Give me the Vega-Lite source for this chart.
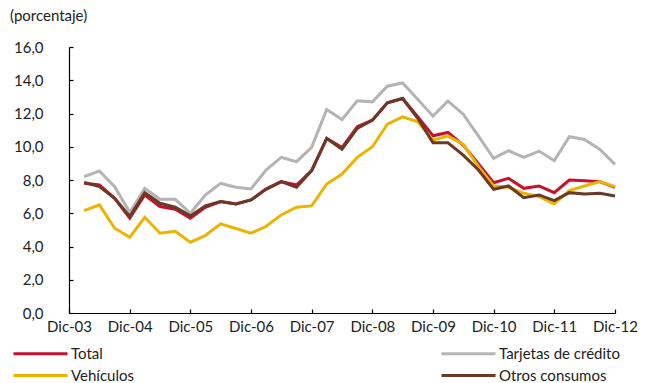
{
  "$schema": "https://vega.github.io/schema/vega-lite/v6.json",
  "autosize": {"type": "none"},
  "width": 546,
  "height": 266,
  "padding": {"left": 69, "top": 47, "right": 37, "bottom": 70},
  "background": "white",
  "config": {
    "view": {"stroke": null},
    "font": "Lato",
    "axis": {"labelFont": "Lato", "labelFontSize": 15, "labelColor": "#222222", "domainColor": "#000000", "tickColor": "#000000", "domainWidth": 1.2, "tickWidth": 1.2, "grid": false, "title": null}
  },
  "title": {"text": "(porcentaje)", "anchor": "start", "frame": "group", "dx": -59, "offset": 16, "fontSize": 15, "font": "Lato", "fontWeight": "normal", "color": "#222222"},
  "datasets": {
    "tasas": [
      {"fecha": "2004-03-01", "serie": "Tarjetas de crédito", "valor": 8.2},
      {"fecha": "2004-06-01", "serie": "Tarjetas de crédito", "valor": 8.54},
      {"fecha": "2004-09-01", "serie": "Tarjetas de crédito", "valor": 7.6},
      {"fecha": "2004-12-01", "serie": "Tarjetas de crédito", "valor": 6.04},
      {"fecha": "2005-03-01", "serie": "Tarjetas de crédito", "valor": 7.5},
      {"fecha": "2005-06-01", "serie": "Tarjetas de crédito", "valor": 6.84},
      {"fecha": "2005-09-01", "serie": "Tarjetas de crédito", "valor": 6.84},
      {"fecha": "2005-12-01", "serie": "Tarjetas de crédito", "valor": 6.0},
      {"fecha": "2006-03-01", "serie": "Tarjetas de crédito", "valor": 7.1},
      {"fecha": "2006-06-01", "serie": "Tarjetas de crédito", "valor": 7.8},
      {"fecha": "2006-09-01", "serie": "Tarjetas de crédito", "valor": 7.56},
      {"fecha": "2006-12-01", "serie": "Tarjetas de crédito", "valor": 7.46},
      {"fecha": "2007-03-01", "serie": "Tarjetas de crédito", "valor": 8.6},
      {"fecha": "2007-06-01", "serie": "Tarjetas de crédito", "valor": 9.36},
      {"fecha": "2007-09-01", "serie": "Tarjetas de crédito", "valor": 9.1},
      {"fecha": "2007-12-01", "serie": "Tarjetas de crédito", "valor": 9.96},
      {"fecha": "2008-03-01", "serie": "Tarjetas de crédito", "valor": 12.24},
      {"fecha": "2008-06-01", "serie": "Tarjetas de crédito", "valor": 11.64},
      {"fecha": "2008-09-01", "serie": "Tarjetas de crédito", "valor": 12.76},
      {"fecha": "2008-12-01", "serie": "Tarjetas de crédito", "valor": 12.7},
      {"fecha": "2009-03-01", "serie": "Tarjetas de crédito", "valor": 13.64},
      {"fecha": "2009-06-01", "serie": "Tarjetas de crédito", "valor": 13.84},
      {"fecha": "2009-09-01", "serie": "Tarjetas de crédito", "valor": 12.84},
      {"fecha": "2009-12-01", "serie": "Tarjetas de crédito", "valor": 11.84},
      {"fecha": "2010-03-01", "serie": "Tarjetas de crédito", "valor": 12.75},
      {"fecha": "2010-06-01", "serie": "Tarjetas de crédito", "valor": 11.96},
      {"fecha": "2010-09-01", "serie": "Tarjetas de crédito", "valor": 10.64},
      {"fecha": "2010-12-01", "serie": "Tarjetas de crédito", "valor": 9.3},
      {"fecha": "2011-03-01", "serie": "Tarjetas de crédito", "valor": 9.76},
      {"fecha": "2011-06-01", "serie": "Tarjetas de crédito", "valor": 9.36},
      {"fecha": "2011-09-01", "serie": "Tarjetas de crédito", "valor": 9.74},
      {"fecha": "2011-12-01", "serie": "Tarjetas de crédito", "valor": 9.16},
      {"fecha": "2012-03-01", "serie": "Tarjetas de crédito", "valor": 10.6},
      {"fecha": "2012-06-01", "serie": "Tarjetas de crédito", "valor": 10.44},
      {"fecha": "2012-09-01", "serie": "Tarjetas de crédito", "valor": 9.84},
      {"fecha": "2012-12-01", "serie": "Tarjetas de crédito", "valor": 8.94},

      {"fecha": "2004-03-01", "serie": "Total", "valor": 7.8},
      {"fecha": "2004-06-01", "serie": "Total", "valor": 7.7},
      {"fecha": "2004-09-01", "serie": "Total", "valor": 6.9},
      {"fecha": "2004-12-01", "serie": "Total", "valor": 5.7},
      {"fecha": "2005-03-01", "serie": "Total", "valor": 7.1},
      {"fecha": "2005-06-01", "serie": "Total", "valor": 6.4},
      {"fecha": "2005-09-01", "serie": "Total", "valor": 6.24},
      {"fecha": "2005-12-01", "serie": "Total", "valor": 5.7},
      {"fecha": "2006-03-01", "serie": "Total", "valor": 6.36},
      {"fecha": "2006-06-01", "serie": "Total", "valor": 6.7},
      {"fecha": "2006-09-01", "serie": "Total", "valor": 6.56},
      {"fecha": "2006-12-01", "serie": "Total", "valor": 6.8},
      {"fecha": "2007-03-01", "serie": "Total", "valor": 7.45},
      {"fecha": "2007-06-01", "serie": "Total", "valor": 7.9},
      {"fecha": "2007-09-01", "serie": "Total", "valor": 7.7},
      {"fecha": "2007-12-01", "serie": "Total", "valor": 8.56},
      {"fecha": "2008-03-01", "serie": "Total", "valor": 10.5},
      {"fecha": "2008-06-01", "serie": "Total", "valor": 9.95},
      {"fecha": "2008-09-01", "serie": "Total", "valor": 11.2},
      {"fecha": "2008-12-01", "serie": "Total", "valor": 11.6},
      {"fecha": "2009-03-01", "serie": "Total", "valor": 12.64},
      {"fecha": "2009-06-01", "serie": "Total", "valor": 12.9},
      {"fecha": "2009-09-01", "serie": "Total", "valor": 11.8},
      {"fecha": "2009-12-01", "serie": "Total", "valor": 10.66},
      {"fecha": "2010-03-01", "serie": "Total", "valor": 10.86},
      {"fecha": "2010-06-01", "serie": "Total", "valor": 10.1},
      {"fecha": "2010-09-01", "serie": "Total", "valor": 8.96},
      {"fecha": "2010-12-01", "serie": "Total", "valor": 7.84},
      {"fecha": "2011-03-01", "serie": "Total", "valor": 8.1},
      {"fecha": "2011-06-01", "serie": "Total", "valor": 7.5},
      {"fecha": "2011-09-01", "serie": "Total", "valor": 7.64},
      {"fecha": "2011-12-01", "serie": "Total", "valor": 7.24},
      {"fecha": "2012-03-01", "serie": "Total", "valor": 8.0},
      {"fecha": "2012-06-01", "serie": "Total", "valor": 7.96},
      {"fecha": "2012-09-01", "serie": "Total", "valor": 7.9},
      {"fecha": "2012-12-01", "serie": "Total", "valor": 7.56},

      {"fecha": "2004-03-01", "serie": "Vehículos", "valor": 6.16},
      {"fecha": "2004-06-01", "serie": "Vehículos", "valor": 6.5},
      {"fecha": "2004-09-01", "serie": "Vehículos", "valor": 5.1},
      {"fecha": "2004-12-01", "serie": "Vehículos", "valor": 4.56},
      {"fecha": "2005-03-01", "serie": "Vehículos", "valor": 5.76},
      {"fecha": "2005-06-01", "serie": "Vehículos", "valor": 4.8},
      {"fecha": "2005-09-01", "serie": "Vehículos", "valor": 4.92},
      {"fecha": "2005-12-01", "serie": "Vehículos", "valor": 4.26},
      {"fecha": "2006-03-01", "serie": "Vehículos", "valor": 4.66},
      {"fecha": "2006-06-01", "serie": "Vehículos", "valor": 5.36},
      {"fecha": "2006-09-01", "serie": "Vehículos", "valor": 5.08},
      {"fecha": "2006-12-01", "serie": "Vehículos", "valor": 4.8},
      {"fecha": "2007-03-01", "serie": "Vehículos", "valor": 5.2},
      {"fecha": "2007-06-01", "serie": "Vehículos", "valor": 5.9},
      {"fecha": "2007-09-01", "serie": "Vehículos", "valor": 6.36},
      {"fecha": "2007-12-01", "serie": "Vehículos", "valor": 6.44},
      {"fecha": "2008-03-01", "serie": "Vehículos", "valor": 7.76},
      {"fecha": "2008-06-01", "serie": "Vehículos", "valor": 8.36},
      {"fecha": "2008-09-01", "serie": "Vehículos", "valor": 9.36},
      {"fecha": "2008-12-01", "serie": "Vehículos", "valor": 10.0},
      {"fecha": "2009-03-01", "serie": "Vehículos", "valor": 11.36},
      {"fecha": "2009-06-01", "serie": "Vehículos", "valor": 11.8},
      {"fecha": "2009-09-01", "serie": "Vehículos", "valor": 11.5},
      {"fecha": "2009-12-01", "serie": "Vehículos", "valor": 10.4},
      {"fecha": "2010-03-01", "serie": "Vehículos", "valor": 10.64},
      {"fecha": "2010-06-01", "serie": "Vehículos", "valor": 10.16},
      {"fecha": "2010-09-01", "serie": "Vehículos", "valor": 8.8},
      {"fecha": "2010-12-01", "serie": "Vehículos", "valor": 7.64},
      {"fecha": "2011-03-01", "serie": "Vehículos", "valor": 7.56},
      {"fecha": "2011-06-01", "serie": "Vehículos", "valor": 7.2},
      {"fecha": "2011-09-01", "serie": "Vehículos", "valor": 7.0},
      {"fecha": "2011-12-01", "serie": "Vehículos", "valor": 6.56},
      {"fecha": "2012-03-01", "serie": "Vehículos", "valor": 7.36},
      {"fecha": "2012-06-01", "serie": "Vehículos", "valor": 7.64},
      {"fecha": "2012-09-01", "serie": "Vehículos", "valor": 7.9},
      {"fecha": "2012-12-01", "serie": "Vehículos", "valor": 7.6},

      {"fecha": "2004-03-01", "serie": "Otros consumos", "valor": 7.86},
      {"fecha": "2004-06-01", "serie": "Otros consumos", "valor": 7.6},
      {"fecha": "2004-09-01", "serie": "Otros consumos", "valor": 6.9},
      {"fecha": "2004-12-01", "serie": "Otros consumos", "valor": 5.8},
      {"fecha": "2005-03-01", "serie": "Otros consumos", "valor": 7.24},
      {"fecha": "2005-06-01", "serie": "Otros consumos", "valor": 6.6},
      {"fecha": "2005-09-01", "serie": "Otros consumos", "valor": 6.36},
      {"fecha": "2005-12-01", "serie": "Otros consumos", "valor": 5.84},
      {"fecha": "2006-03-01", "serie": "Otros consumos", "valor": 6.44},
      {"fecha": "2006-06-01", "serie": "Otros consumos", "valor": 6.7},
      {"fecha": "2006-09-01", "serie": "Otros consumos", "valor": 6.56},
      {"fecha": "2006-12-01", "serie": "Otros consumos", "valor": 6.8},
      {"fecha": "2007-03-01", "serie": "Otros consumos", "valor": 7.44},
      {"fecha": "2007-06-01", "serie": "Otros consumos", "valor": 7.9},
      {"fecha": "2007-09-01", "serie": "Otros consumos", "valor": 7.56},
      {"fecha": "2007-12-01", "serie": "Otros consumos", "valor": 8.56},
      {"fecha": "2008-03-01", "serie": "Otros consumos", "valor": 10.5},
      {"fecha": "2008-06-01", "serie": "Otros consumos", "valor": 9.85},
      {"fecha": "2008-09-01", "serie": "Otros consumos", "valor": 11.1},
      {"fecha": "2008-12-01", "serie": "Otros consumos", "valor": 11.6},
      {"fecha": "2009-03-01", "serie": "Otros consumos", "valor": 12.64},
      {"fecha": "2009-06-01", "serie": "Otros consumos", "valor": 12.9},
      {"fecha": "2009-09-01", "serie": "Otros consumos", "valor": 11.7},
      {"fecha": "2009-12-01", "serie": "Otros consumos", "valor": 10.24},
      {"fecha": "2010-03-01", "serie": "Otros consumos", "valor": 10.24},
      {"fecha": "2010-06-01", "serie": "Otros consumos", "valor": 9.5},
      {"fecha": "2010-09-01", "serie": "Otros consumos", "valor": 8.6},
      {"fecha": "2010-12-01", "serie": "Otros consumos", "valor": 7.44},
      {"fecha": "2011-03-01", "serie": "Otros consumos", "valor": 7.64},
      {"fecha": "2011-06-01", "serie": "Otros consumos", "valor": 6.94},
      {"fecha": "2011-09-01", "serie": "Otros consumos", "valor": 7.1},
      {"fecha": "2011-12-01", "serie": "Otros consumos", "valor": 6.76},
      {"fecha": "2012-03-01", "serie": "Otros consumos", "valor": 7.24},
      {"fecha": "2012-06-01", "serie": "Otros consumos", "valor": 7.16},
      {"fecha": "2012-09-01", "serie": "Otros consumos", "valor": 7.2},
      {"fecha": "2012-12-01", "serie": "Otros consumos", "valor": 7.04}
    ]
  },
  "data": {"name": "tasas"},
  "mark": {"type": "line", "strokeWidth": 3, "strokeJoin": "miter", "strokeCap": "butt"},
  "encoding": {
    "x": {
      "field": "fecha",
      "type": "temporal",
      "scale": {
        "type": "utc",
        "domain": [
          {"year": 2003, "month": 12, "date": 1, "utc": true},
          {"year": 2012, "month": 12, "date": 1, "utc": true}
        ]
      },
      "axis": {
        "values": [
          {"year": 2003, "month": 12, "date": 1, "utc": true},
          {"year": 2004, "month": 12, "date": 1, "utc": true},
          {"year": 2005, "month": 12, "date": 1, "utc": true},
          {"year": 2006, "month": 12, "date": 1, "utc": true},
          {"year": 2007, "month": 12, "date": 1, "utc": true},
          {"year": 2008, "month": 12, "date": 1, "utc": true},
          {"year": 2009, "month": 12, "date": 1, "utc": true},
          {"year": 2010, "month": 12, "date": 1, "utc": true},
          {"year": 2011, "month": 12, "date": 1, "utc": true},
          {"year": 2012, "month": 12, "date": 1, "utc": true}
        ],
        "labelExpr": "'Dic-' + utcFormat(datum.value, '%y')",
        "tickSize": -4,
        "labelPadding": 10,
        "labelFlush": false,
        "labelOverlap": false
      }
    },
    "y": {
      "field": "valor",
      "type": "quantitative",
      "scale": {"domain": [0, 16], "nice": false, "zero": true},
      "axis": {
        "values": [0, 2, 4, 6, 8, 10, 12, 14, 16],
        "labelExpr": "replace(format(datum.value, '.1f'), '.', ',')",
        "tickSize": -4,
        "labelPadding": 30
      }
    },
    "color": {
      "field": "serie",
      "type": "nominal",
      "sort": null,
      "scale": {
        "domain": ["Total", "Tarjetas de crédito", "Vehículos", "Otros consumos"],
        "range": ["#C8102E", "#B4B4B4", "#EBB400", "#6B3A26"]
      },
      "legend": {
        "orient": "none",
        "direction": "horizontal",
        "legendX": -57,
        "legendY": 296,
        "columns": 2,
        "columnPadding": 301,
        "rowPadding": 3,
        "title": null,
        "symbolType": "M-3,0H3",
        "symbolSize": 324,
        "symbolOffset": 18,
        "symbolStrokeWidth": 3,
        "labelFont": "Lato",
        "labelFontSize": 15,
        "labelColor": "#222222",
        "labelOffset": 20,
        "labelLimit": 300
      }
    }
  }
}
